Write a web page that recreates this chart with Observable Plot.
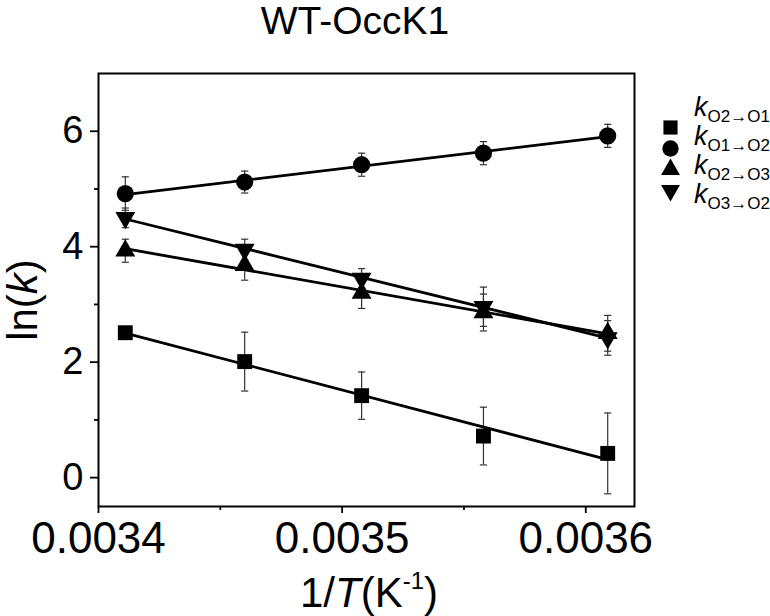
<!DOCTYPE html>
<html>
<head>
<meta charset="utf-8">
<script src="https://cdn.jsdelivr.net/npm/d3@7"></script>
<script src="https://cdn.jsdelivr.net/npm/@observablehq/plot@0.6"></script>
<style>
  html, body { margin: 0; padding: 0; background: #fff; }
  #wrap { position: relative; width: 770px; height: 616px; overflow: hidden; font-family: "Liberation Sans", Arial, sans-serif; color: #000; }
  .abs { position: absolute; white-space: nowrap; }
  #title { left: 245px; width: 220px; top: 1px; font-size: 39px; line-height: 40px; text-align: center; }
  #ylab { left: 23px; top: 300px; font-size: 42px; line-height: 42px; transform: translate(-50%, -50%) rotate(-90deg); }
  #xlab { left: 369px; top: 556px; font-size: 42px; line-height: 50px; transform: translateX(-50%); }
  #xlab sup { font-size: 24px; vertical-align: 18px; }
  .leg { font-size: 27px; line-height: 27px; }
  .leg sub { font-size: 17px; vertical-align: -6px; font-style: normal; }
</style>
</head>
<body>
<div id="wrap">
  <div id="title" class="abs">WT-OccK1</div>
  <div id="ylab" class="abs">ln(<i>k</i>)</div>
  <div id="xlab" class="abs">1/<i>T</i>(K<sup>-1</sup>)</div>
</div>
<script>
// ---- data ----
const invT = [0.003411, 0.00346, 0.003508, 0.003558, 0.003609];

const seriesKeys = ["O2→O1", "O1→O2", "O2→O3", "O3→O2"];

const lnK_O2O1 = [2.51, 2.01, 1.42, 0.72, 0.42];
const err_O2O1 = [0.05, 0.51, 0.41, 0.50, 0.70];

const lnK_O1O2 = [4.92, 5.12, 5.42, 5.62, 5.92];
const err_O1O2 = [0.29, 0.19, 0.20, 0.20, 0.20];

const lnK_O2O3 = [3.93, 3.68, 3.20, 2.86, 2.50];
const err_O2O3 = [0.20, 0.26, 0.27, 0.32, 0.31];

const lnK_O3O2 = [4.50, 3.95, 3.45, 2.96, 2.42];
const err_O3O2 = [0.17, 0.18, 0.17, 0.34, 0.30];

const xMajorTicks = [0.0034, 0.0035, 0.0036];
const xMinorTicks = [0.00345, 0.00355];
const yMajorTicks = [0, 2, 4, 6];
const yMinorTicks = [1, 3, 5];

// ---- build table ----
const valuesBySeries = [lnK_O2O1, lnK_O1O2, lnK_O2O3, lnK_O3O2];
const errBySeries = [err_O2O1, err_O1O2, err_O2O3, err_O3O2];
const rows = [];
seriesKeys.forEach((s, i) => {
  invT.forEach((x, j) => rows.push({s, x, y: valuesBySeries[i][j], e: errBySeries[i][j]}));
});
const of = s => rows.filter(d => d.s === s);

const symStyle = [
  {symbol: "square", r: 8.4, rotate: 0},
  {symbol: "circle", r: 8.6, rotate: 0},
  {symbol: "triangle", r: 7.4, rotate: 0},
  {symbol: "triangle", r: 7.4, rotate: 180}
];

const capSymbol = {
  draw(ctx, size) {
    const r = Math.sqrt(size / Math.PI);
    ctx.moveTo(-r, 0);
    ctx.lineTo(r, 0);
  }
};

const chart = Plot.plot({
  width: 770,
  height: 616,
  marginLeft: 98,
  marginRight: 136,
  marginTop: 73,
  marginBottom: 110,
  style: {fontFamily: "Liberation Sans, Arial, sans-serif", color: "#000", background: "transparent", overflow: "visible"},
  x: {domain: [0.0034, 0.00362], axis: null},
  y: {domain: [-0.5, 7], axis: null},
  marks: [
    Plot.axisX({ticks: xMajorTicks, tickFormat: d3.format(".4f"), tickSize: 7, tickPadding: 8, fontSize: 44, strokeWidth: 1.8, label: null}),
    Plot.axisX({ticks: xMinorTicks, tickFormat: () => "", tickSize: 4, strokeWidth: 1.8, label: null}),
    Plot.axisY({ticks: yMajorTicks, tickSize: 8, tickPadding: 7, fontSize: 38, strokeWidth: 1.8, label: null}),
    Plot.axisY({ticks: yMinorTicks, tickFormat: () => "", tickSize: 4, strokeWidth: 1.8, label: null}),
    Plot.ruleX(rows, {x: "x", y1: d => d.y - d.e, y2: d => d.y + d.e, stroke: "#333", strokeWidth: 1.2}),
    Plot.dot(rows, {x: "x", y: d => d.y + d.e, symbol: capSymbol, r: 3.6, stroke: "#333", strokeWidth: 1.2, fill: "none"}),
    Plot.dot(rows, {x: "x", y: d => d.y - d.e, symbol: capSymbol, r: 3.6, stroke: "#333", strokeWidth: 1.2, fill: "none"}),
    Plot.linearRegressionY(rows, {x: "x", y: "y", z: "s", ci: 0, stroke: "#000", strokeWidth: 2.8}),
    ...seriesKeys.map((s, i) => Plot.dot(of(s), {x: "x", y: "y", fill: "#000", stroke: "none", ...symStyle[i]})),
    Plot.frame({stroke: "#000", strokeWidth: 2})
  ]
});
chart.style.position = "absolute";
chart.style.left = "0px";
chart.style.top = "0px";
document.getElementById("wrap").appendChild(chart);

// ---- legend symbols (small Plot) ----
const legendRows = seriesKeys.map((s, i) => ({s, i}));
const legendPlot = Plot.plot({
  width: 30,
  height: 115,
  margin: 0,
  x: {domain: [0, 1], axis: null},
  y: {type: "point", domain: seriesKeys, range: [15, 102], axis: null},
  style: {background: "transparent", overflow: "visible"},
  marks: legendRows.map(d => Plot.dot([d], {x: () => 0.5, y: "s", fill: "#000", ...symStyle[d.i], r: symStyle[d.i].r * 0.95}))
});
legendPlot.style.position = "absolute";
legendPlot.style.left = "655px";
legendPlot.style.top = "100px";
document.getElementById("wrap").appendChild(legendPlot);

const legY = d3.scalePoint().domain(seriesKeys).range([115, 202]);
seriesKeys.forEach(s => {
  const div = document.createElement("div");
  div.className = "abs leg";
  div.style.left = "694px";
  div.style.top = (legY(s) - 21) + "px";
  div.innerHTML = `<i>k</i><sub>${s}</sub>`;
  document.getElementById("wrap").appendChild(div);
});
</script>
</body>
</html>
